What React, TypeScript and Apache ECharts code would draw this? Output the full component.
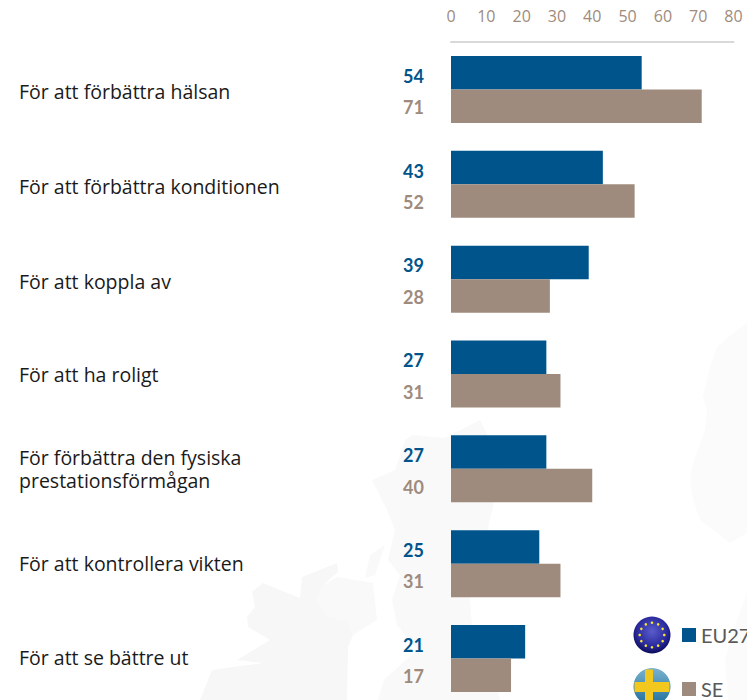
import React, { useEffect, useRef } from "react";
import * as echarts from "echarts";

const categories = [
  "För att förbättra hälsan",
  "För att förbättra konditionen",
  "För att koppla av",
  "För att ha roligt",
  "För förbättra den fysiska\nprestationsförmågan",
  "För att kontrollera vikten",
  "För att se bättre ut",
];
const eu27 = [54, 43, 39, 27, 27, 25, 21];
const se = [71, 52, 28, 31, 40, 31, 17];
const BLUE = "#00548c";
const TAUPE = "#9e8b7d";
const FONT = "Lato, sans-serif";
const WIDE_FONT = "'Open Sans', sans-serif";

const landPaths: { fill: string; pts: number[][] }[] = [
  // Ireland
  { fill: "#f7f7f7", pts: [[212,670],[233,667],[263,663],[237,660],[270,640],[248,627],[247,617],[255,607],[252,592],[263,583],[300,598],[302,577],[337,563],[338,572],[323,585],[317,600],[328,617],[347,620],[353,635],[348,647],[347,700],[200,700]] },
  // Northern Ireland
  { fill: "#f9f9f9", pts: [[337,577],[373,583],[377,620],[353,635],[347,620],[328,617],[317,600],[323,585]] },
  // Great Britain
  { fill: "#f9f9f9", pts: [[378,700],[384,680],[417,650],[397,625],[392,600],[400,575],[388,560],[395,530],[387,510],[372,480],[395,470],[405,440],[413,435],[445,438],[480,420],[500,460],[493,507],[480,560],[470,600],[472,625],[490,650],[500,700]] },
  // Hebrides
  { fill: "#f9f9f9", pts: [[370,555],[385,545],[375,575],[365,578]] },
  // Scandinavia
  { fill: "#fbfbfb", pts: [[747,323],[737,330],[717,347],[710,367],[703,397],[707,410],[705,430],[693,463],[690,480],[693,500],[700,520],[730,543],[747,533]] },
  // Continent
  { fill: "#fbfbfb", pts: [[747,593],[737,620],[725,660],[728,700],[747,700]] },
];

const LABEL_BASE = { color: "#1a1a1a", fontFamily: WIDE_FONT, fontSize: 19.5, lineHeight: 23 };

export default function App() {
  const ref = useRef<HTMLDivElement>(null);
  useEffect(() => {
    document.body.style.margin = "0";
    const chart = echarts.init(ref.current!, null, { renderer: "svg" });
    const stars = Array.from({ length: 12 }, (_, i) => {
      const a = (i * Math.PI) / 6;
      return {
        type: "circle",
        z: 6,
        shape: { cx: 652 + 12.3 * Math.sin(a), cy: 635 - 12.3 * Math.cos(a), r: 1.3 },
        style: { fill: "#f5e33a" },
      };
    });
    chart.setOption({
      animation: false,
      grid: { left: 451, top: 42, width: 282.5, height: 664, outerBoundsMode: "none" },
      xAxis: {
        type: "value",
        position: "top",
        min: 0,
        max: 80,
        interval: 10,
        splitLine: { show: false },
        axisTick: { show: false },
        axisLine: { show: true, lineStyle: { color: "#d9d9d9", width: 2 } },
        axisLabel: { color: TAUPE, fontFamily: WIDE_FONT, fontSize: 16, margin: 18 },
      },
      yAxis: {
        type: "category",
        inverse: true,
        data: categories,
        axisLine: { show: false },
        axisTick: { show: false },
        axisLabel: {
          ...LABEL_BASE,
          align: "left",
          margin: 432,
          formatter: (v: string) => {
            const i = categories.indexOf(v);
            const style = i < 3 ? "down" : i === 6 ? "up" : "mid";
            return v.split("\n").map((l) => `{${style}|${l}}`).join("\n");
          },
          rich: {
            down: { ...LABEL_BASE, padding: [5, 0, 0, 0] },
            mid: { ...LABEL_BASE },
            up: { ...LABEL_BASE, padding: [0, 0, 3, 0] },
          },
        },
      },
      legend: {
        orient: "vertical",
        left: 682,
        top: 625,
        padding: 0,
        icon: "rect",
        itemWidth: 14,
        itemHeight: 14,
        itemGap: 34,
        selectedMode: false,
        textStyle: { color: "#595959", fontFamily: FONT, fontSize: 20 },
        data: ["EU27", "SE"],
      },
      graphic: [
        ...landPaths.map((p) => ({
          type: "polygon",
          z: -10,
          silent: true,
          shape: { points: p.pts },
          style: { fill: p.fill },
        })),
        {
          type: "circle",
          z: 5,
          shape: { cx: 652, cy: 635, r: 18.5 },
          style: {
            fill: new echarts.graphic.RadialGradient(0.5, 0.4, 0.6, [
              { offset: 0, color: "#5a5ccc" },
              { offset: 0.7, color: "#28289a" },
              { offset: 1, color: "#0c0c58" },
            ]),
          },
        },
        ...stars,
        {
          type: "circle",
          z: 5,
          shape: { cx: 652, cy: 686.5, r: 18.5 },
          style: {
            fill: new echarts.graphic.LinearGradient(0, 0, 0, 1, [
              { offset: 0, color: "#7ab2cf" },
              { offset: 1, color: "#1f6f9c" },
            ]),
          },
        },
        { type: "rect", z: 6, shape: { x: 634.5, y: 682, width: 35, height: 10 }, style: { fill: "#f2c81e" } },
        { type: "rect", z: 6, shape: { x: 645, y: 669.5, width: 8, height: 31 }, style: { fill: "#f2c81e" } },
      ],
      series: [
        {
          name: "EU27",
          type: "bar",
          data: eu27,
          barWidth: 33.5,
          barGap: "0%",
          itemStyle: { color: BLUE },
          label: {
            show: true,
            position: "left",
            distance: 27,
            offset: [0, 3],
            color: BLUE,
            fontFamily: FONT,
            fontWeight: "bold",
            fontSize: 18,
          },
        },
        {
          name: "SE",
          type: "bar",
          data: se,
          barWidth: 33.5,
          barGap: "0%",
          itemStyle: { color: TAUPE },
          label: {
            show: true,
            position: "left",
            distance: 27,
            offset: [0, 1],
            color: TAUPE,
            fontFamily: FONT,
            fontWeight: "bold",
            fontSize: 18,
          },
        },
      ],
    });
    return () => chart.dispose();
  }, []);
  return <div ref={ref} style={{ width: 747, height: 700 }} />;
}
